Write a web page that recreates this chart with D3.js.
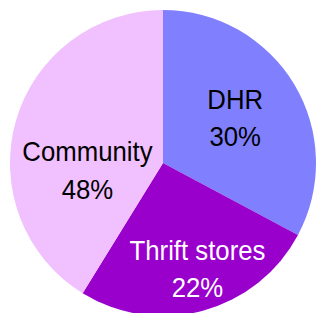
<!DOCTYPE html>
<html lang="en">
	<head>
		<meta charset="utf-8">
		<title>Pie</title>
		<script type="text/javascript" src="https://d3js.org/d3.v7.min.js"></script>
		<style type="text/css">
			body { margin: 0; background: #fff; }
			text { font-family: "Liberation Sans", Arial, sans-serif; }
		</style>
	</head>
	<body>
		<div id="pie"></div>

		<script type="text/javascript">

	// slice sizes as drawn, labels as printed
	var categories = ["DHR", "Thrift stores", "Community"]
	var shares = [32.8, 26.0, 41.2]
	var pctLabels = ["30%", "22%", "48%"]
	var colors = ["#8080ff", "#9900cc", "#f0c0ff"]
	var textColors = ["#000", "#fff", "#000"]

	var w = 316
	var h = 313
	var cx = 163, cy = 163
	var r = 153

	var svg = d3.select("#pie")
		.append("svg")
		.attr("width", w)
		.attr("height", h)

	var data = categories.map(function(c, i) {
		return {name: c, value: shares[i], pct: pctLabels[i], i: i}
	})

	var pie = d3.pie()
		.sort(null)
		.value(function(d) { return d.value })

	var arc = d3.arc().innerRadius(0).outerRadius(r)
	var labelArc = d3.arc().innerRadius(90).outerRadius(90)

	// label nudges from the centroid
	var nudge = [[-5, -8], [11, 10], [11, 23]]

	var g = svg.append("g")
		.attr("transform", "translate(" + cx + "," + cy + ")")

	var arcs = pie(data)

	g.selectAll("path")
		.data(arcs)
		.enter()
		.append("path")
		.attr("d", arc)
		.style("fill", function(d) { return colors[d.data.i] })

	// the original font is a little narrow and tall
	var labels = g.selectAll("text")
		.data(arcs)
		.enter()
		.append("text")
		.attr("text-anchor", "middle")
		.style("font-size", "28px")
		.style("fill", function(d) { return textColors[d.data.i] })
		.attr("transform", function(d) {
			var c = labelArc.centroid(d)
			var n = nudge[d.data.i]
			return "translate(" + (c[0] + n[0]) + "," + (c[1] + n[1]) + ") scale(0.92,1)"
		})

	labels.append("tspan")
		.attr("x", 0)
		.attr("y", 0)
		.text(function(d) { return d.data.name })

	labels.append("tspan")
		.attr("x", 0)
		.attr("y", 37.5)
		.text(function(d) { return d.data.pct })

		</script>
	</body>
</html>
